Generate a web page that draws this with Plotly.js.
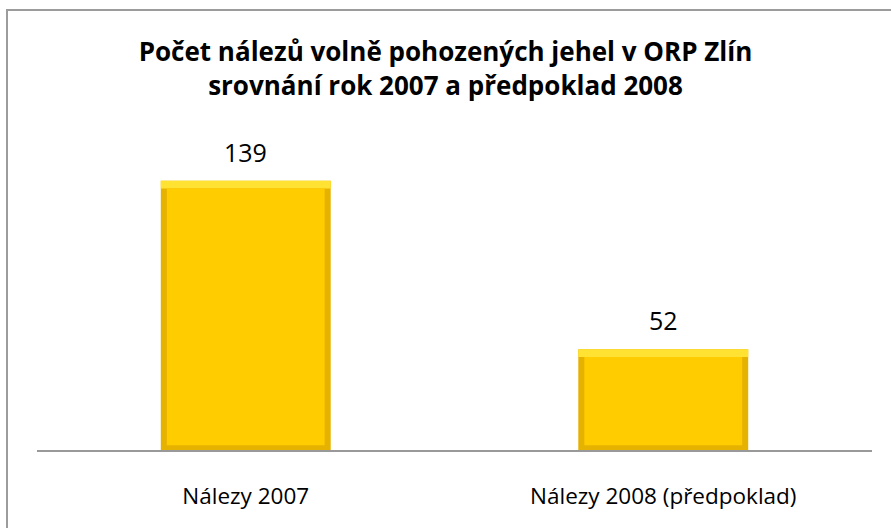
<!DOCTYPE html>
<html>
<head>
<meta charset="utf-8">
<script src="https://cdn.plot.ly/plotly-3.0.1.min.js"></script>
<style>
html,body{margin:0;padding:0;overflow:hidden;background:#fff;}
#wrap{position:relative;width:891px;height:528px;overflow:hidden;}
#chart{position:absolute;left:0;top:0;width:891px;height:528px;}
#frame{position:absolute;left:6px;top:9px;width:1000px;height:1000px;border:2px solid #9c9c9c;pointer-events:none;}
</style>
</head>
<body>
<div id="wrap"><div id="chart"></div><div id="frame"></div></div>
<script>
const categories = ["Nálezy 2007", "Nálezy 2008 (předpoklad)"];
const values = [139, 52];
const titleLines = ["Počet nálezů volně pohozených jehel v ORP Zlín", "srovnání rok 2007 a předpoklad 2008"];

const topBand = 4;
const bottomBand = 2.5;

const traces = [
  {type:'bar', x:categories, y:values, width:0.407, marker:{color:'#E6B200'}, hoverinfo:'skip'},
  {type:'bar', x:categories, y:values.map(()=>topBand), base:values.map(v=>v-topBand), width:0.407, marker:{color:'#FFE232'}, hoverinfo:'skip'},
  {type:'bar', x:categories, y:values.map(v=>v-topBand-bottomBand), base:values.map(()=>bottomBand), width:0.378, marker:{color:'#FFCC00'}, hoverinfo:'skip'}
];

const annotations = categories.map((c,i)=>({
  x:c, y:values[i], xref:'x', yref:'y', text:String(values[i]), showarrow:false,
  yanchor:'bottom', yshift:10, font:{family:'Open Sans', size:25, color:'#000'}
}));

const layout = {
  width:891, height:528,
  margin:{l:37, r:19, t:140, b:78},
  paper_bgcolor:'#fff', plot_bgcolor:'#fff',
  barmode:'overlay', showlegend:false,
  title:{text:'<b>'+titleLines.join('<br>')+'</b>', x:0.5, xanchor:'center', xref:'container', y:0.885, yanchor:'top', yref:'container',
    font:{family:'Open Sans', size:26, color:'#000'}},
  xaxis:{showline:true, linecolor:'#999', linewidth:2, ticks:'', showgrid:false, zeroline:false,
    tickfont:{family:'Open Sans', size:22.5, color:'#000'}, ticklabelstandoff:25, fixedrange:true},
  yaxis:{range:[0,160], visible:false, showgrid:false, zeroline:false, fixedrange:true},
  annotations:annotations
};

Plotly.newPlot('chart', traces, layout, {displayModeBar:false, staticPlot:true});
</script>
</body>
</html>
